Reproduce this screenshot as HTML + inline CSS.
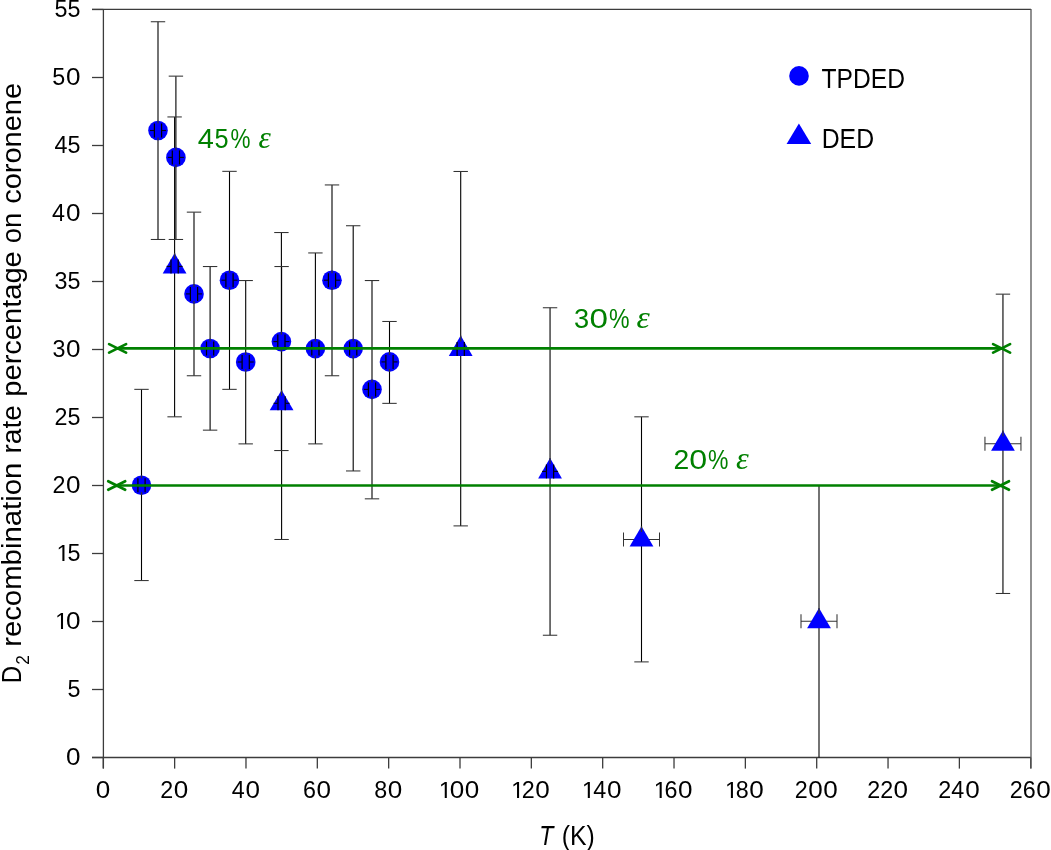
<!DOCTYPE html>
<html><head><meta charset="utf-8"><style>
html,body{margin:0;padding:0;background:#fff;width:1051px;height:850px;overflow:hidden}
svg{display:block;will-change:transform}
</style></head><body>
<svg width="1051" height="850" viewBox="0 0 1051 850"><g stroke="#3c3c3c" stroke-width="1.3" fill="none">
<line x1="92" y1="9.4" x2="1031" y2="9.4"/>
<line x1="103.4" y1="9" x2="103.4" y2="768.6"/>
<line x1="92" y1="757.5" x2="1031" y2="757.5"/>
<line x1="92" y1="757.50" x2="103.4" y2="757.50"/>
<line x1="92" y1="689.50" x2="103.4" y2="689.50"/>
<line x1="92" y1="621.50" x2="103.4" y2="621.50"/>
<line x1="92" y1="553.50" x2="103.4" y2="553.50"/>
<line x1="92" y1="485.50" x2="103.4" y2="485.50"/>
<line x1="92" y1="417.50" x2="103.4" y2="417.50"/>
<line x1="92" y1="349.50" x2="103.4" y2="349.50"/>
<line x1="92" y1="281.50" x2="103.4" y2="281.50"/>
<line x1="92" y1="213.50" x2="103.4" y2="213.50"/>
<line x1="92" y1="145.50" x2="103.4" y2="145.50"/>
<line x1="92" y1="77.50" x2="103.4" y2="77.50"/>
<line x1="92" y1="9.50" x2="103.4" y2="9.50"/>
<line x1="103.30" y1="757.5" x2="103.30" y2="768.6"/>
<line x1="174.64" y1="757.5" x2="174.64" y2="768.6"/>
<line x1="245.98" y1="757.5" x2="245.98" y2="768.6"/>
<line x1="317.32" y1="757.5" x2="317.32" y2="768.6"/>
<line x1="388.66" y1="757.5" x2="388.66" y2="768.6"/>
<line x1="460.00" y1="757.5" x2="460.00" y2="768.6"/>
<line x1="531.34" y1="757.5" x2="531.34" y2="768.6"/>
<line x1="602.68" y1="757.5" x2="602.68" y2="768.6"/>
<line x1="674.02" y1="757.5" x2="674.02" y2="768.6"/>
<line x1="745.36" y1="757.5" x2="745.36" y2="768.6"/>
<line x1="816.70" y1="757.5" x2="816.70" y2="768.6"/>
<line x1="888.04" y1="757.5" x2="888.04" y2="768.6"/>
<line x1="959.38" y1="757.5" x2="959.38" y2="768.6"/>
<line x1="1030.72" y1="757.5" x2="1030.72" y2="768.6"/>
</g>
<line x1="1031" y1="9" x2="1031" y2="768.6" stroke="#555" stroke-width="1.3"/>
<g stroke="#000" stroke-width="1.1"><line x1="141.50" y1="389.35" x2="141.50" y2="580.56"/><line x1="158.00" y1="21.74" x2="158.00" y2="239.48"/><line x1="175.90" y1="76.14" x2="175.90" y2="239.48"/><line x1="194.00" y1="212.14" x2="194.00" y2="375.75"/><line x1="210.10" y1="266.54" x2="210.10" y2="430.15"/><line x1="229.50" y1="171.34" x2="229.50" y2="389.35"/><line x1="245.70" y1="280.55" x2="245.70" y2="443.88"/><line x1="281.40" y1="232.54" x2="281.40" y2="450.55"/><line x1="315.40" y1="252.94" x2="315.40" y2="443.88"/><line x1="332.00" y1="184.94" x2="332.00" y2="375.75"/><line x1="353.20" y1="225.74" x2="353.20" y2="470.95"/><line x1="372.00" y1="280.55" x2="372.00" y2="498.83"/><line x1="389.50" y1="321.48" x2="389.50" y2="403.36"/><line x1="174.60" y1="116.94" x2="174.60" y2="416.82"/><line x1="281.60" y1="266.54" x2="281.60" y2="539.49"/><line x1="460.70" y1="171.48" x2="460.70" y2="525.89"/><line x1="550.05" y1="307.75" x2="550.05" y2="635.24"/><line x1="641.50" y1="416.82" x2="641.50" y2="661.89"/><line x1="819.00" y1="485.50" x2="819.00" y2="757.50"/><line x1="1002.95" y1="294.15" x2="1002.95" y2="593.48"/></g>
<g stroke="#333" stroke-width="1.05"><line x1="134.30" y1="389.35" x2="148.70" y2="389.35"/><line x1="134.30" y1="580.56" x2="148.70" y2="580.56"/><line x1="150.80" y1="21.74" x2="165.20" y2="21.74"/><line x1="150.80" y1="239.48" x2="165.20" y2="239.48"/><line x1="168.70" y1="76.14" x2="183.10" y2="76.14"/><line x1="168.70" y1="239.48" x2="183.10" y2="239.48"/><line x1="186.80" y1="212.14" x2="201.20" y2="212.14"/><line x1="186.80" y1="375.75" x2="201.20" y2="375.75"/><line x1="202.90" y1="266.54" x2="217.30" y2="266.54"/><line x1="202.90" y1="430.15" x2="217.30" y2="430.15"/><line x1="222.30" y1="171.34" x2="236.70" y2="171.34"/><line x1="222.30" y1="389.35" x2="236.70" y2="389.35"/><line x1="238.50" y1="280.55" x2="252.90" y2="280.55"/><line x1="238.50" y1="443.88" x2="252.90" y2="443.88"/><line x1="274.20" y1="232.54" x2="288.60" y2="232.54"/><line x1="274.20" y1="450.55" x2="288.60" y2="450.55"/><line x1="308.20" y1="252.94" x2="322.60" y2="252.94"/><line x1="308.20" y1="443.88" x2="322.60" y2="443.88"/><line x1="324.80" y1="184.94" x2="339.20" y2="184.94"/><line x1="324.80" y1="375.75" x2="339.20" y2="375.75"/><line x1="346.00" y1="225.74" x2="360.40" y2="225.74"/><line x1="346.00" y1="470.95" x2="360.40" y2="470.95"/><line x1="364.80" y1="280.55" x2="379.20" y2="280.55"/><line x1="364.80" y1="498.83" x2="379.20" y2="498.83"/><line x1="382.30" y1="321.48" x2="396.70" y2="321.48"/><line x1="382.30" y1="403.36" x2="396.70" y2="403.36"/><line x1="167.40" y1="116.94" x2="181.80" y2="116.94"/><line x1="167.40" y1="416.82" x2="181.80" y2="416.82"/><line x1="274.40" y1="266.54" x2="288.80" y2="266.54"/><line x1="274.40" y1="539.49" x2="288.80" y2="539.49"/><line x1="453.50" y1="171.48" x2="467.90" y2="171.48"/><line x1="453.50" y1="525.89" x2="467.90" y2="525.89"/><line x1="542.85" y1="307.75" x2="557.25" y2="307.75"/><line x1="542.85" y1="635.24" x2="557.25" y2="635.24"/><line x1="634.30" y1="416.82" x2="648.70" y2="416.82"/><line x1="634.30" y1="661.89" x2="648.70" y2="661.89"/><line x1="623.50" y1="539.50" x2="659.50" y2="539.50"/><line x1="623.50" y1="532.50" x2="623.50" y2="546.50"/><line x1="659.50" y1="532.50" x2="659.50" y2="546.50"/><line x1="811.80" y1="485.50" x2="826.20" y2="485.50"/><line x1="801.00" y1="621.30" x2="837.00" y2="621.30"/><line x1="801.00" y1="614.30" x2="801.00" y2="628.30"/><line x1="837.00" y1="614.30" x2="837.00" y2="628.30"/><line x1="995.75" y1="294.15" x2="1010.15" y2="294.15"/><line x1="995.75" y1="593.48" x2="1010.15" y2="593.48"/><line x1="984.95" y1="443.80" x2="1020.95" y2="443.80"/><line x1="984.95" y1="436.80" x2="984.95" y2="450.80"/><line x1="1020.95" y1="436.80" x2="1020.95" y2="450.80"/></g>
<g fill="#0000ff"><circle cx="141.5" cy="485.2" r="9.8"/><circle cx="158.0" cy="130.5" r="9.8"/><circle cx="175.9" cy="157.4" r="9.8"/><circle cx="194.0" cy="293.9" r="9.8"/><circle cx="210.1" cy="348.5" r="9.8"/><circle cx="229.5" cy="280.2" r="9.8"/><circle cx="245.7" cy="362.0" r="9.8"/><circle cx="281.4" cy="341.6" r="9.8"/><circle cx="315.4" cy="348.6" r="9.8"/><circle cx="332.0" cy="280.2" r="9.8"/><circle cx="353.2" cy="348.6" r="9.8"/><circle cx="372.0" cy="389.4" r="9.8"/><circle cx="389.5" cy="361.9" r="9.8"/><path d="M174.60 253.10L186.50 273.40L162.70 273.40Z"/><path d="M281.60 390.00L293.50 410.30L269.70 410.30Z"/><path d="M460.70 335.60L472.60 355.90L448.80 355.90Z"/><path d="M550.05 458.10L561.95 478.40L538.15 478.40Z"/><path d="M641.50 526.20L653.40 546.50L629.60 546.50Z"/><path d="M819.00 608.00L830.90 628.30L807.10 628.30Z"/><path d="M1002.95 430.50L1014.85 450.80L991.05 450.80Z"/></g>
<g stroke="#333" stroke-width="1.3"><line x1="141.5" y1="475.40" x2="141.5" y2="478.20"/><line x1="141.5" y1="492.20" x2="141.5" y2="495.00"/><line x1="158.0" y1="120.70" x2="158.0" y2="123.50"/><line x1="158.0" y1="137.50" x2="158.0" y2="140.30"/><line x1="175.9" y1="147.60" x2="175.9" y2="150.40"/><line x1="175.9" y1="164.40" x2="175.9" y2="167.20"/><line x1="194.0" y1="284.10" x2="194.0" y2="286.90"/><line x1="194.0" y1="300.90" x2="194.0" y2="303.70"/><line x1="210.1" y1="338.70" x2="210.1" y2="341.50"/><line x1="210.1" y1="355.50" x2="210.1" y2="358.30"/><line x1="229.5" y1="270.40" x2="229.5" y2="273.20"/><line x1="229.5" y1="287.20" x2="229.5" y2="290.00"/><line x1="245.7" y1="352.20" x2="245.7" y2="355.00"/><line x1="245.7" y1="369.00" x2="245.7" y2="371.80"/><line x1="281.4" y1="331.80" x2="281.4" y2="334.60"/><line x1="281.4" y1="348.60" x2="281.4" y2="351.40"/><line x1="315.4" y1="338.80" x2="315.4" y2="341.60"/><line x1="315.4" y1="355.60" x2="315.4" y2="358.40"/><line x1="332.0" y1="270.40" x2="332.0" y2="273.20"/><line x1="332.0" y1="287.20" x2="332.0" y2="290.00"/><line x1="353.2" y1="338.80" x2="353.2" y2="341.60"/><line x1="353.2" y1="355.60" x2="353.2" y2="358.40"/><line x1="372.0" y1="379.60" x2="372.0" y2="382.40"/><line x1="372.0" y1="396.40" x2="372.0" y2="399.20"/><line x1="389.5" y1="352.10" x2="389.5" y2="354.90"/><line x1="389.5" y1="368.90" x2="389.5" y2="371.70"/><line x1="174.6" y1="253.10" x2="174.6" y2="258.90"/><line x1="281.6" y1="390.00" x2="281.6" y2="395.80"/><line x1="460.7" y1="335.60" x2="460.7" y2="341.40"/><line x1="550.05" y1="458.10" x2="550.05" y2="463.90"/><line x1="641.5" y1="526.20" x2="641.5" y2="532.00"/><line x1="819.0" y1="608.00" x2="819.0" y2="613.80"/><line x1="1002.95" y1="430.50" x2="1002.95" y2="436.30"/></g>
<g stroke="#000" stroke-width="1.2"><line x1="137.90" y1="478.20" x2="137.90" y2="492.20"/><line x1="145.10" y1="478.20" x2="145.10" y2="492.20"/><line x1="133.50" y1="485.20" x2="137.90" y2="485.20" stroke-width="1.1" stroke="#000018"/><line x1="145.10" y1="485.20" x2="149.50" y2="485.20" stroke-width="1.1" stroke="#000018"/><line x1="154.40" y1="123.50" x2="154.40" y2="137.50"/><line x1="161.60" y1="123.50" x2="161.60" y2="137.50"/><line x1="150.00" y1="130.50" x2="154.40" y2="130.50" stroke-width="1.1" stroke="#000018"/><line x1="161.60" y1="130.50" x2="166.00" y2="130.50" stroke-width="1.1" stroke="#000018"/><line x1="172.30" y1="150.40" x2="172.30" y2="164.40"/><line x1="179.50" y1="150.40" x2="179.50" y2="164.40"/><line x1="167.90" y1="157.40" x2="172.30" y2="157.40" stroke-width="1.1" stroke="#000018"/><line x1="179.50" y1="157.40" x2="183.90" y2="157.40" stroke-width="1.1" stroke="#000018"/><line x1="190.40" y1="286.90" x2="190.40" y2="300.90"/><line x1="197.60" y1="286.90" x2="197.60" y2="300.90"/><line x1="186.00" y1="293.90" x2="190.40" y2="293.90" stroke-width="1.1" stroke="#000018"/><line x1="197.60" y1="293.90" x2="202.00" y2="293.90" stroke-width="1.1" stroke="#000018"/><line x1="206.50" y1="341.50" x2="206.50" y2="355.50"/><line x1="213.70" y1="341.50" x2="213.70" y2="355.50"/><line x1="202.10" y1="348.50" x2="206.50" y2="348.50" stroke-width="1.1" stroke="#000018"/><line x1="213.70" y1="348.50" x2="218.10" y2="348.50" stroke-width="1.1" stroke="#000018"/><line x1="225.90" y1="273.20" x2="225.90" y2="287.20"/><line x1="233.10" y1="273.20" x2="233.10" y2="287.20"/><line x1="221.50" y1="280.20" x2="225.90" y2="280.20" stroke-width="1.1" stroke="#000018"/><line x1="233.10" y1="280.20" x2="237.50" y2="280.20" stroke-width="1.1" stroke="#000018"/><line x1="242.10" y1="355.00" x2="242.10" y2="369.00"/><line x1="249.30" y1="355.00" x2="249.30" y2="369.00"/><line x1="237.70" y1="362.00" x2="242.10" y2="362.00" stroke-width="1.1" stroke="#000018"/><line x1="249.30" y1="362.00" x2="253.70" y2="362.00" stroke-width="1.1" stroke="#000018"/><line x1="277.80" y1="334.60" x2="277.80" y2="348.60"/><line x1="285.00" y1="334.60" x2="285.00" y2="348.60"/><line x1="273.40" y1="341.60" x2="277.80" y2="341.60" stroke-width="1.1" stroke="#000018"/><line x1="285.00" y1="341.60" x2="289.40" y2="341.60" stroke-width="1.1" stroke="#000018"/><line x1="311.80" y1="341.60" x2="311.80" y2="355.60"/><line x1="319.00" y1="341.60" x2="319.00" y2="355.60"/><line x1="307.40" y1="348.60" x2="311.80" y2="348.60" stroke-width="1.1" stroke="#000018"/><line x1="319.00" y1="348.60" x2="323.40" y2="348.60" stroke-width="1.1" stroke="#000018"/><line x1="328.40" y1="273.20" x2="328.40" y2="287.20"/><line x1="335.60" y1="273.20" x2="335.60" y2="287.20"/><line x1="324.00" y1="280.20" x2="328.40" y2="280.20" stroke-width="1.1" stroke="#000018"/><line x1="335.60" y1="280.20" x2="340.00" y2="280.20" stroke-width="1.1" stroke="#000018"/><line x1="349.60" y1="341.60" x2="349.60" y2="355.60"/><line x1="356.80" y1="341.60" x2="356.80" y2="355.60"/><line x1="345.20" y1="348.60" x2="349.60" y2="348.60" stroke-width="1.1" stroke="#000018"/><line x1="356.80" y1="348.60" x2="361.20" y2="348.60" stroke-width="1.1" stroke="#000018"/><line x1="368.40" y1="382.40" x2="368.40" y2="396.40"/><line x1="375.60" y1="382.40" x2="375.60" y2="396.40"/><line x1="364.00" y1="389.40" x2="368.40" y2="389.40" stroke-width="1.1" stroke="#000018"/><line x1="375.60" y1="389.40" x2="380.00" y2="389.40" stroke-width="1.1" stroke="#000018"/><line x1="385.90" y1="354.90" x2="385.90" y2="368.90"/><line x1="393.10" y1="354.90" x2="393.10" y2="368.90"/><line x1="381.50" y1="361.90" x2="385.90" y2="361.90" stroke-width="1.1" stroke="#000018"/><line x1="393.10" y1="361.90" x2="397.50" y2="361.90" stroke-width="1.1" stroke="#000018"/><line x1="171.00" y1="259.40" x2="171.00" y2="273.40"/><line x1="178.20" y1="259.40" x2="178.20" y2="273.40"/><line x1="166.60" y1="266.40" x2="171.00" y2="266.40" stroke-width="1.1" stroke="#000018"/><line x1="178.20" y1="266.40" x2="182.60" y2="266.40" stroke-width="1.1" stroke="#000018"/><line x1="278.00" y1="396.30" x2="278.00" y2="410.30"/><line x1="285.20" y1="396.30" x2="285.20" y2="410.30"/><line x1="273.60" y1="403.30" x2="278.00" y2="403.30" stroke-width="1.1" stroke="#000018"/><line x1="285.20" y1="403.30" x2="289.60" y2="403.30" stroke-width="1.1" stroke="#000018"/><line x1="457.10" y1="341.90" x2="457.10" y2="355.90"/><line x1="464.30" y1="341.90" x2="464.30" y2="355.90"/><line x1="452.70" y1="348.90" x2="457.10" y2="348.90" stroke-width="1.1" stroke="#000018"/><line x1="464.30" y1="348.90" x2="468.70" y2="348.90" stroke-width="1.1" stroke="#000018"/><line x1="546.45" y1="464.40" x2="546.45" y2="478.40"/><line x1="553.65" y1="464.40" x2="553.65" y2="478.40"/><line x1="542.05" y1="471.40" x2="546.45" y2="471.40" stroke-width="1.1" stroke="#000018"/><line x1="553.65" y1="471.40" x2="558.05" y2="471.40" stroke-width="1.1" stroke="#000018"/></g>
<g stroke="#008000" stroke-width="2.7" stroke-linecap="round" fill="none"><line x1="117.6" y1="348.4" x2="1001.6" y2="348.4"/><path d="M109.10 344.15L126.10 352.65M109.10 352.65L126.10 344.15"/><path d="M993.10 344.15L1010.10 352.65M993.10 352.65L1010.10 344.15"/><line x1="116.7" y1="485.5" x2="1000.5" y2="485.5"/><path d="M108.20 481.25L125.20 489.75M108.20 489.75L125.20 481.25"/><path d="M992.00 481.25L1009.00 489.75M992.00 489.75L1009.00 481.25"/></g>
<circle cx="799" cy="75.9" r="9.8" fill="#0000ff"/>
<path d="M798.9 123.6L811.2 144L786.6 144Z" fill="#0000ff"/>
<g font-family="Liberation Sans" font-size="23.3" fill="#000"><text x="66.68" y="765.10" transform="translate(73.16 0) scale(1.12 1) translate(-73.16 0)">0</text><text x="67.42" y="697.10">5</text><path d="M60.97 629.10 L60.97 615.03 L57.35 617.61 L57.35 615.68 L61.14 613.07 L63.03 613.07 L63.03 629.10Z"/><text x="66.68" y="629.10" transform="translate(73.16 0) scale(1.12 1) translate(-73.16 0)">0</text><path d="M62.39 561.10 L62.39 547.03 L58.78 549.61 L58.78 547.68 L62.56 545.07 L64.45 545.07 L64.45 561.10Z"/><text x="67.42" y="561.10">5</text><text x="52.54" y="493.10">2</text><text x="66.68" y="493.10" transform="translate(73.16 0) scale(1.12 1) translate(-73.16 0)">0</text><text x="54.46" y="425.10">2</text><text x="67.42" y="425.10">5</text><text x="52.39" y="357.10">3</text><text x="66.68" y="357.10" transform="translate(73.16 0) scale(1.12 1) translate(-73.16 0)">0</text><text x="54.46" y="289.10">3</text><text x="67.42" y="289.10">5</text><text x="52.05" y="221.10">4</text><text x="66.68" y="221.10" transform="translate(73.16 0) scale(1.12 1) translate(-73.16 0)">0</text><text x="54.46" y="153.10">4</text><text x="67.42" y="153.10">5</text><text x="52.35" y="85.10">5</text><text x="66.68" y="85.10" transform="translate(73.16 0) scale(1.12 1) translate(-73.16 0)">0</text><text x="54.46" y="17.10">5</text><text x="67.42" y="17.10">5</text><text x="96.52" y="798.00" transform="translate(103.00 0) scale(1.12 1) translate(-103.00 0)">0</text><text x="160.32" y="798.00">2</text><text x="174.47" y="798.00" transform="translate(180.95 0) scale(1.12 1) translate(-180.95 0)">0</text><text x="231.74" y="798.00">4</text><text x="246.37" y="798.00" transform="translate(252.85 0) scale(1.12 1) translate(-252.85 0)">0</text><text x="302.92" y="798.00">6</text><text x="317.22" y="798.00" transform="translate(323.70 0) scale(1.12 1) translate(-323.70 0)">0</text><text x="374.34" y="798.00">8</text><text x="388.65" y="798.00" transform="translate(395.13 0) scale(1.12 1) translate(-395.13 0)">0</text><path d="M444.75 798.00 L444.75 783.93 L441.14 786.51 L441.14 784.58 L444.93 781.97 L446.81 781.97 L446.81 798.00Z"/><text x="450.47" y="798.00" transform="translate(456.95 0) scale(1.12 1) translate(-456.95 0)">0</text><text x="465.55" y="798.00" transform="translate(472.03 0) scale(1.12 1) translate(-472.03 0)">0</text><path d="M517.02 798.00 L517.02 783.93 L513.41 786.51 L513.41 784.58 L517.20 781.97 L519.08 781.97 L519.08 798.00Z"/><text x="521.81" y="798.00">2</text><text x="535.96" y="798.00" transform="translate(542.44 0) scale(1.12 1) translate(-542.44 0)">0</text><path d="M587.80 798.00 L587.80 783.93 L584.18 786.51 L584.18 784.58 L587.97 781.97 L589.86 781.97 L589.86 798.00Z"/><text x="593.23" y="798.00">4</text><text x="607.86" y="798.00" transform="translate(614.34 0) scale(1.12 1) translate(-614.34 0)">0</text><path d="M659.64 798.00 L659.64 783.93 L656.02 786.51 L656.02 784.58 L659.81 781.97 L661.70 781.97 L661.70 798.00Z"/><text x="664.41" y="798.00">6</text><text x="678.70" y="798.00" transform="translate(685.18 0) scale(1.12 1) translate(-685.18 0)">0</text><path d="M730.89 798.00 L730.89 783.93 L727.27 786.51 L727.27 784.58 L731.06 781.97 L732.94 781.97 L732.94 798.00Z"/><text x="735.83" y="798.00">8</text><text x="750.14" y="798.00" transform="translate(756.62 0) scale(1.12 1) translate(-756.62 0)">0</text><text x="794.85" y="798.00">2</text><text x="808.99" y="798.00" transform="translate(815.47 0) scale(1.12 1) translate(-815.47 0)">0</text><text x="824.07" y="798.00" transform="translate(830.54 0) scale(1.12 1) translate(-830.54 0)">0</text><text x="867.24" y="798.00">2</text><text x="880.20" y="798.00">2</text><text x="894.35" y="798.00" transform="translate(900.83 0) scale(1.12 1) translate(-900.83 0)">0</text><text x="938.34" y="798.00">2</text><text x="951.30" y="798.00">4</text><text x="965.93" y="798.00" transform="translate(972.41 0) scale(1.12 1) translate(-972.41 0)">0</text><text x="1009.85" y="798.00">2</text><text x="1022.81" y="798.00">6</text><text x="1037.10" y="798.00" transform="translate(1043.58 0) scale(1.12 1) translate(-1043.58 0)">0</text></g>
<text transform="translate(821.55 88.00) scale(0.8952 1)" font-family="Liberation Sans" font-size="27.5" fill="#000">TPDED</text>
<text transform="translate(821.66 147.80) scale(0.9029 1)" font-family="Liberation Sans" font-size="27.5" fill="#000">DED</text>
<text transform="translate(197.64 147.80) scale(1.0422 1)" font-family="Liberation Sans" font-size="27.8" fill="#008000">4</text>
<text transform="translate(214.49 147.80) scale(0.9104 1)" font-family="Liberation Sans" font-size="27.8" fill="#008000">5</text>
<text transform="translate(230.50 147.80) scale(0.8093 1)" font-family="Liberation Sans" font-size="27.8" fill="#008000">%</text>
<text transform="translate(258.43 147.80) scale(0.9605 1)" font-family="Liberation Serif" font-style="italic" font-size="32.5" fill="#008000">ε</text>
<text transform="translate(573.96 328.30) scale(0.9787 1)" font-family="Liberation Sans" font-size="27.8" fill="#008000">3</text>
<text transform="translate(589.60 328.30) scale(1.1965 1)" font-family="Liberation Sans" font-size="27.8" fill="#008000">0</text>
<text transform="translate(608.88 328.30) scale(0.8313 1)" font-family="Liberation Sans" font-size="27.8" fill="#008000">%</text>
<text transform="translate(636.38 328.30) scale(1.0351 1)" font-family="Liberation Serif" font-style="italic" font-size="32.5" fill="#008000">ε</text>
<text transform="translate(673.58 468.90) scale(1.0186 1)" font-family="Liberation Sans" font-size="27.8" fill="#008000">2</text>
<text transform="translate(689.24 468.90) scale(1.1588 1)" font-family="Liberation Sans" font-size="27.8" fill="#008000">0</text>
<text transform="translate(708.08 468.90) scale(0.8269 1)" font-family="Liberation Sans" font-size="27.8" fill="#008000">%</text>
<text transform="translate(736.01 468.90) scale(0.9937 1)" font-family="Liberation Serif" font-style="italic" font-size="32.5" fill="#008000">ε</text>
<text transform="translate(539.22 844.90) scale(0.8556 1)" font-family="Liberation Sans" font-style="italic" font-size="27" fill="#000">T</text>
<text transform="translate(561.66 844.90) scale(0.9190 1)" font-family="Liberation Sans" font-size="27" fill="#000">(K)</text>
<g transform="translate(21.3 0) rotate(-90)"><text transform="translate(-683.27 0.00) scale(0.8946 1)" font-family="Liberation Sans" font-size="26.8" fill="#000">D</text><text transform="translate(-664.67 7.70) scale(0.9127 1)" font-family="Liberation Sans" font-size="19" fill="#000">2</text><text transform="translate(-646.85 0.00) scale(1.0945 1)" font-family="Liberation Sans" font-size="26.8" fill="#000">recombination</text><text transform="translate(-453.46 0.00) scale(1.0461 1)" font-family="Liberation Sans" font-size="26.8" fill="#000">rate</text><text transform="translate(-396.67 0.00) scale(1.0847 1)" font-family="Liberation Sans" font-size="26.8" fill="#000">percentage</text><text transform="translate(-243.15 0.00) scale(1.0243 1)" font-family="Liberation Sans" font-size="26.8" fill="#000">on</text><text transform="translate(-203.83 0.00) scale(1.0820 1)" font-family="Liberation Sans" font-size="26.8" fill="#000">coronene</text></g></svg>
</body></html>
